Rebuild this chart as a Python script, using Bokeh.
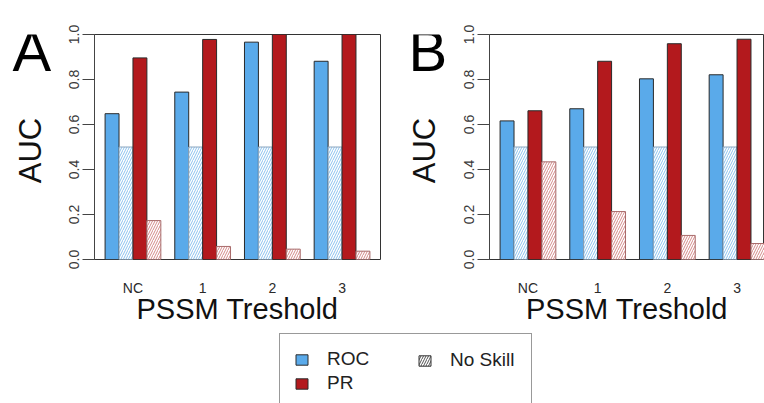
import math
from bokeh.plotting import figure
from bokeh.models import Range1d, FixedTicker, Label, Legend, LegendItem
from bokeh.layouts import column, row
from bokeh.embed import file_html
from bokeh.resources import INLINE

# ---------------- data ----------------
groups = ["NC", "1", "2", "3"]
a_roc = [0.648, 0.744, 0.966, 0.881]
a_roc_noskill = [0.5, 0.5, 0.5, 0.5]
a_pr = [0.896, 0.978, 1.0, 1.0]
a_pr_noskill = [0.173, 0.058, 0.046, 0.037]

b_roc = [0.616, 0.670, 0.803, 0.821]
b_roc_noskill = [0.5, 0.5, 0.5, 0.5]
b_pr = [0.661, 0.881, 0.959, 0.979]
b_pr_noskill = [0.434, 0.213, 0.107, 0.071]

y_ticks = [0.0, 0.2, 0.4, 0.6, 0.8, 1.0]
legend_labels = ["ROC", "PR", "No Skill"]
y_title = "AUC"
x_title = "PSSM Treshold"

# ---------------- style ----------------
FONT = "Liberation Sans"
ROC_COL = "#5aaaea"
PR_COL = "#b3191d"
EDGE = "#2a2a2a"
ROC_HATCH = "#8cc2ee"
PR_HATCH = "#d48a8a"
PANEL_H = 332

N_SERIES = 4
GROUP_SPAN = N_SERIES + 1  # R barplot beside=TRUE, space=c(0,1)
PX_PER_UNIT = 286 / 20.52


def bar_x(group_index, series_index):
    return 1.5 + group_index * GROUP_SPAN + series_index


def group_center(group_index):
    return 1 + group_index * GROUP_SPAN + N_SERIES / 2


def blank_fig(width, height):
    f = figure(width=width, height=height, x_range=Range1d(0, 1), y_range=Range1d(0, 1),
               output_backend="svg", toolbar_location=None,
               min_border_left=0, min_border_right=0, min_border_top=0, min_border_bottom=0)
    f.axis.visible = False
    f.xgrid.visible = False
    f.ygrid.visible = False
    f.outline_line_color = None
    f.border_fill_color = "white"
    f.background_fill_color = "white"
    return f


def make_gutter(letter, width, letter_x, letter_y, title_cx, title_cy):
    # canvas units: pixels from the canvas' top-left corner
    g = blank_fig(width, PANEL_H)
    g.add_layout(Label(x=letter_x, y=letter_y, x_units="canvas", y_units="canvas",
                       text=letter, text_baseline="alphabetic", text_align="left",
                       text_font=FONT, text_font_size="58px", text_color="black"))
    g.add_layout(Label(x=title_cx, y=title_cy, x_units="canvas", y_units="canvas",
                       text=y_title, angle=math.pi / 2, text_baseline="middle", text_align="center",
                       text_font=FONT, text_font_size="31px", text_color="#111111"))
    return g


def make_panel(roc, roc_ns, pr, pr_ns, width, border_right, frame_w):
    p = figure(width=width, height=PANEL_H,
               x_range=Range1d(0.24, 0.24 + frame_w / PX_PER_UNIT), y_range=Range1d(0, 1),
               output_backend="svg", toolbar_location=None,
               min_border_left=36, min_border_right=border_right,
               min_border_top=34, min_border_bottom=73)
    p.xgrid.visible = False
    p.ygrid.visible = False
    p.outline_line_color = "#333333"
    p.outline_line_width = 1
    p.background_fill_color = "white"
    p.border_fill_color = "white"

    specs = [
        (roc, dict(fill_color=ROC_COL, line_color=EDGE)),
        (roc_ns, dict(fill_color="white", hatch_pattern="/", hatch_color=ROC_HATCH,
                      hatch_scale=5, hatch_weight=1, line_color="#8aa6c0")),
        (pr, dict(fill_color=PR_COL, line_color=EDGE)),
        (pr_ns, dict(fill_color="white", hatch_pattern="/", hatch_color=PR_HATCH,
                     hatch_scale=5, hatch_weight=1, line_color="#a86a6a")),
    ]
    for k, (vals, style) in enumerate(specs):
        xs = [bar_x(g, k) for g in range(len(vals))]
        p.vbar(x=xs, top=vals, bottom=0, width=1, line_width=1, **style)

    # y axis
    ya = p.yaxis[0]
    ya.ticker = FixedTicker(ticks=y_ticks)
    ya.major_label_overrides = {t: f"{t:.1f}" for t in y_ticks}
    ya.major_label_orientation = "vertical"
    ya.major_tick_out = 12
    ya.major_tick_in = 0
    ya.minor_tick_line_color = None
    ya.axis_line_color = "#444444"
    ya.major_tick_line_color = "#444444"
    ya.major_label_standoff = 4
    ya.major_label_text_font = FONT
    ya.major_label_text_font_size = "14px"
    ya.major_label_text_color = "#3a3a3a"

    # x axis
    xa = p.xaxis[0]
    centers = [group_center(g) for g in range(len(groups))]
    xa.ticker = FixedTicker(ticks=centers)
    xa.major_label_overrides = {c: name for c, name in zip(centers, groups)}
    xa.major_tick_line_color = None
    xa.major_tick_out = 0
    xa.major_tick_in = 0
    xa.minor_tick_line_color = None
    xa.axis_line_color = None
    xa.major_label_standoff = 20
    xa.major_label_text_font = FONT
    xa.major_label_text_font_size = "14px"
    xa.major_label_text_color = "#2a2a2a"
    xa.axis_label = x_title
    xa.axis_label_text_font = FONT
    xa.axis_label_text_font_size = "29px"
    xa.axis_label_text_font_style = "normal"
    xa.axis_label_text_color = "#111111"
    xa.axis_label_standoff = -6
    return p


gA = make_gutter("A", width=58, letter_x=12, letter_y=50, title_cx=30, title_cy=150)
pA = make_panel(a_roc, a_roc_noskill, a_pr, a_pr_noskill, width=326, border_right=4, frame_w=286)
gB = make_gutter("B", width=69, letter_x=24, letter_y=50, title_cx=40, title_cy=150)
pB = make_panel(b_roc, b_roc_noskill, b_pr, b_pr_noskill, width=311, border_right=0, frame_w=275)

# ---------------- legend panel ----------------
pl = blank_fig(764, 403 - PANEL_H)

# legend proxies placed outside the visible range
r_roc = pl.vbar(x=[-10], top=[-10], width=1, fill_color=ROC_COL, line_color=EDGE)
r_pr = pl.vbar(x=[-10], top=[-10], width=1, fill_color=PR_COL, line_color=EDGE)
r_ns = pl.vbar(x=[-10], top=[-10], width=1, fill_color="white", hatch_pattern="/",
               hatch_color="#555555", hatch_scale=5, hatch_weight=1, line_color="#333333")

common = dict(glyph_width=15, glyph_height=13, label_standoff=18, label_height=20,
              spacing=2, margin=0, label_text_font=FONT, label_text_font_size="19px",
              label_text_color="#222222", orientation="vertical")

legend1 = Legend(items=[LegendItem(label=legend_labels[0], renderers=[r_roc]),
                        LegendItem(label=legend_labels[1], renderers=[r_pr])],
                 location=(279, -6), padding=14, label_width=190,
                 border_line_color="#333333", border_line_width=1,
                 background_fill_color="white", background_fill_alpha=1, **common)
legend2 = Legend(items=[LegendItem(label=legend_labels[2], renderers=[r_ns])],
                 location=(417, 32), padding=0, label_width=40,
                 border_line_color=None, background_fill_alpha=0, **common)
pl.add_layout(legend1)
pl.add_layout(legend2)

layout = column(row(gA, pA, gB, pB), pl)
open("out.html", "w").write(file_html(layout, INLINE))
